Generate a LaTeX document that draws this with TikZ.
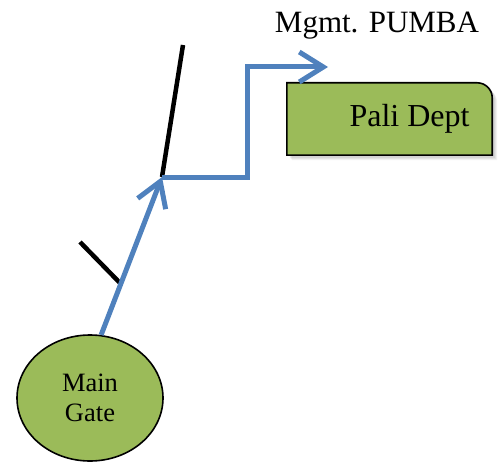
\documentclass[tikz,border=0pt]{standalone}
\usepackage{fontspec}
\setmainfont{Liberation Serif}
\usetikzlibrary{arrows.meta,shapes.geometric}
\definecolor{boxgreen}{HTML}{9BBB59}
\definecolor{lineblue}{HTML}{4F81BD}
\tikzset{
  gatestyle/.style={ellipse, draw=black, line width=1.6pt, fill=boxgreen,
    minimum width=146pt, minimum height=126pt, inner sep=0pt, align=center,
    font=\fontsize{26.5}{30}\selectfont},
  deptstyle/.style={rectangle, minimum width=205pt, minimum height=72pt, inner sep=0pt,
    font=\fontsize{32}{36}\selectfont},
  route/.style={draw=lineblue, line width=5pt, line join=miter,
    -{Straight Barb[length=24pt,width=30pt]}},
  wall/.style={draw=black, line width=4.5pt},
  labeltext/.style={font=\fontsize{31}{36}\selectfont, anchor=base, inner sep=0pt}
}
\begin{document}
\begin{tikzpicture}[x=1pt,y=1pt]
\useasboundingbox (0,0) rectangle (502,464);
% Pali Dept box
\node[deptstyle] (pali) at (389.5,345) {};
\foreach \s/\o in {5/0.05,4/0.06,3/0.07}{
\fill[black, opacity=\o] ([xshift=\s pt,yshift=-\s pt]pali.south west) |- ([xshift=-15pt+\s pt,yshift=-\s pt]pali.north east) arc (90:0:15pt) |- cycle;
}
\draw[fill=boxgreen, line width=1.6pt] (pali.south west) |- ([xshift=-15pt]pali.north east) arc (90:0:15pt) |- cycle;
\node[deptstyle] at (pali) {\hspace*{40pt}Pali Dept};
% Main Gate
\node[gatestyle] (gate) at (90,66) {Main\\Gate};
% label
\node[labeltext] (mgmt) at (377,431) {Mgmt. PUMBA};
% coordinates
\coordinate (tip) at (162,287);
\coordinate (b1) at (247,287);
\coordinate (b2) at (247,397);
\coordinate (end) at (328,397);
\coordinate (w1) at (183,419);
\coordinate (w2a) at (80,222);
\coordinate (w2b) at (120,181);
% walls
\draw[wall] (w1) -- (tip);
\draw[wall] (w2a) -- (w2b);
% route
\draw[route] (gate.80) -- (tip);
\draw[route] (tip) -- (b1) -- (b2) -- (end);
\end{tikzpicture}
\end{document}
